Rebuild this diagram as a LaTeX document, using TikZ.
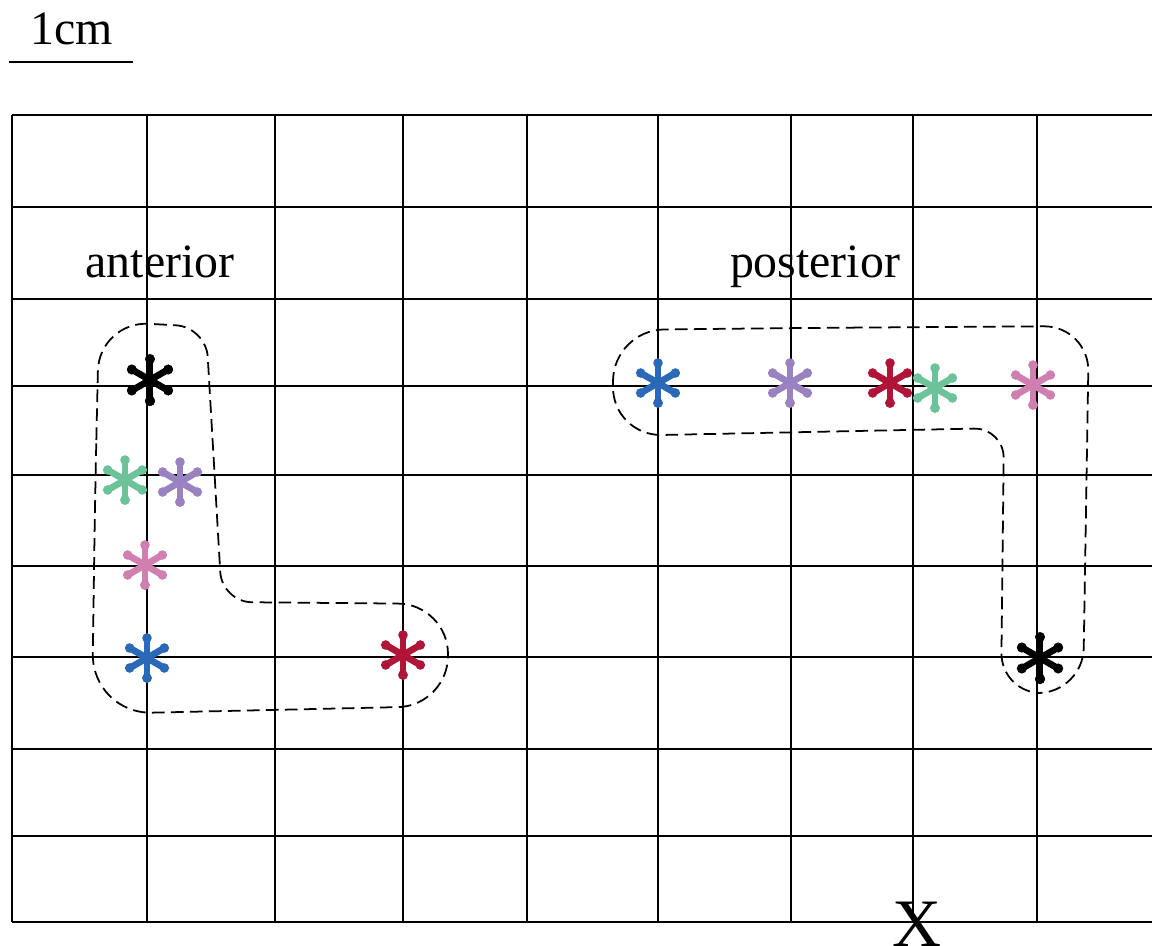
\documentclass[tikz,border=0pt]{standalone}
\usepackage{fontspec}
\setmainfont{Liberation Serif}
\usepackage{tikz}
\usetikzlibrary{positioning}
\definecolor{spotblue}{HTML}{2A68B8}
\definecolor{spotpurple}{HTML}{9A82C0}
\definecolor{spotred}{HTML}{B01538}
\definecolor{spotgreen}{HTML}{6CC39A}
\definecolor{spotpink}{HTML}{D080B0}
\tikzset{grid line/.style={line width=0.65pt,black}}
\tikzset{outline/.style={line width=0.5pt,dash pattern=on 3.6pt off 1.8pt}}
\tikzset{label text/.style={inner sep=0pt,anchor=base,font=\fontsize{13.6}{16}\selectfont}}
\tikzset{spot/.pic={
  \foreach \a in {90,150,...,450}{
    \draw[line width=1.9pt] (0,0) -- (\a:18);
    \fill (\a:20) circle (4.8);
  }
}}

\begin{document}
\begin{tikzpicture}[x=0.01cm,y=-0.01cm]
\useasboundingbox[fill=white] (0,0) rectangle (1152,946);
% grid
\foreach \gx in {12,147,275,403,527,658,791,913,1037}
  \draw[grid line] (\gx,115) -- (\gx,922);
\foreach \gy in {115,207,299,386,475,566,657,749,836,922}
  \draw[grid line] (12,\gy) -- (1152,\gy);
%
\node (scale) [label text] at (72,45) {1cm};
\coordinate (barL) at (9,62);
\coordinate (barR) at (133,62);
\draw[line width=0.65pt] (barL) -- (barR);
%
\node (ant) [label text] at (160,278) {anterior};
\node (post) [label text] at (815,278) {posterior};
\node (cross) [inner sep=0pt,font=\fontsize{19.3}{22}\selectfont] at (917,924) {X};
% outlines
\draw[outline] (95,500) [rounded corners=0.5cm] -- (99,321)
  [rounded corners=0.3cm] -- (206,327) -- (222,602)
  [rounded corners=0.5cm] -- (448,604) -- (448,706)
  [rounded corners=0.6cm] -- (92,714) -- cycle;
\draw[outline] (800,328) [rounded corners=0.45cm] -- (1089,326) -- (1083,693)
  [rounded corners=0.4cm] -- (1001,693)
  [rounded corners=0.3cm] -- (1004,428)
  [rounded corners=0.5cm] -- (612,436) -- (614,330) -- cycle;
% spots
\foreach \p/\c in {{125,480}/spotgreen,{180,482}/spotpurple,{145,565}/spotpink,
    {147,658}/spotblue,{403,655}/spotred,{658,383}/spotblue,{790,383}/spotpurple,
    {890,383}/spotred,{935,388}/spotgreen,{1033,385}/spotpink}
  \pic[\c] at (\p) {spot};
\pic[black,scale=1.05] at (150,380) {spot};
\pic[black,scale=1.05] at (1040,658) {spot};
\end{tikzpicture}
\end{document}
